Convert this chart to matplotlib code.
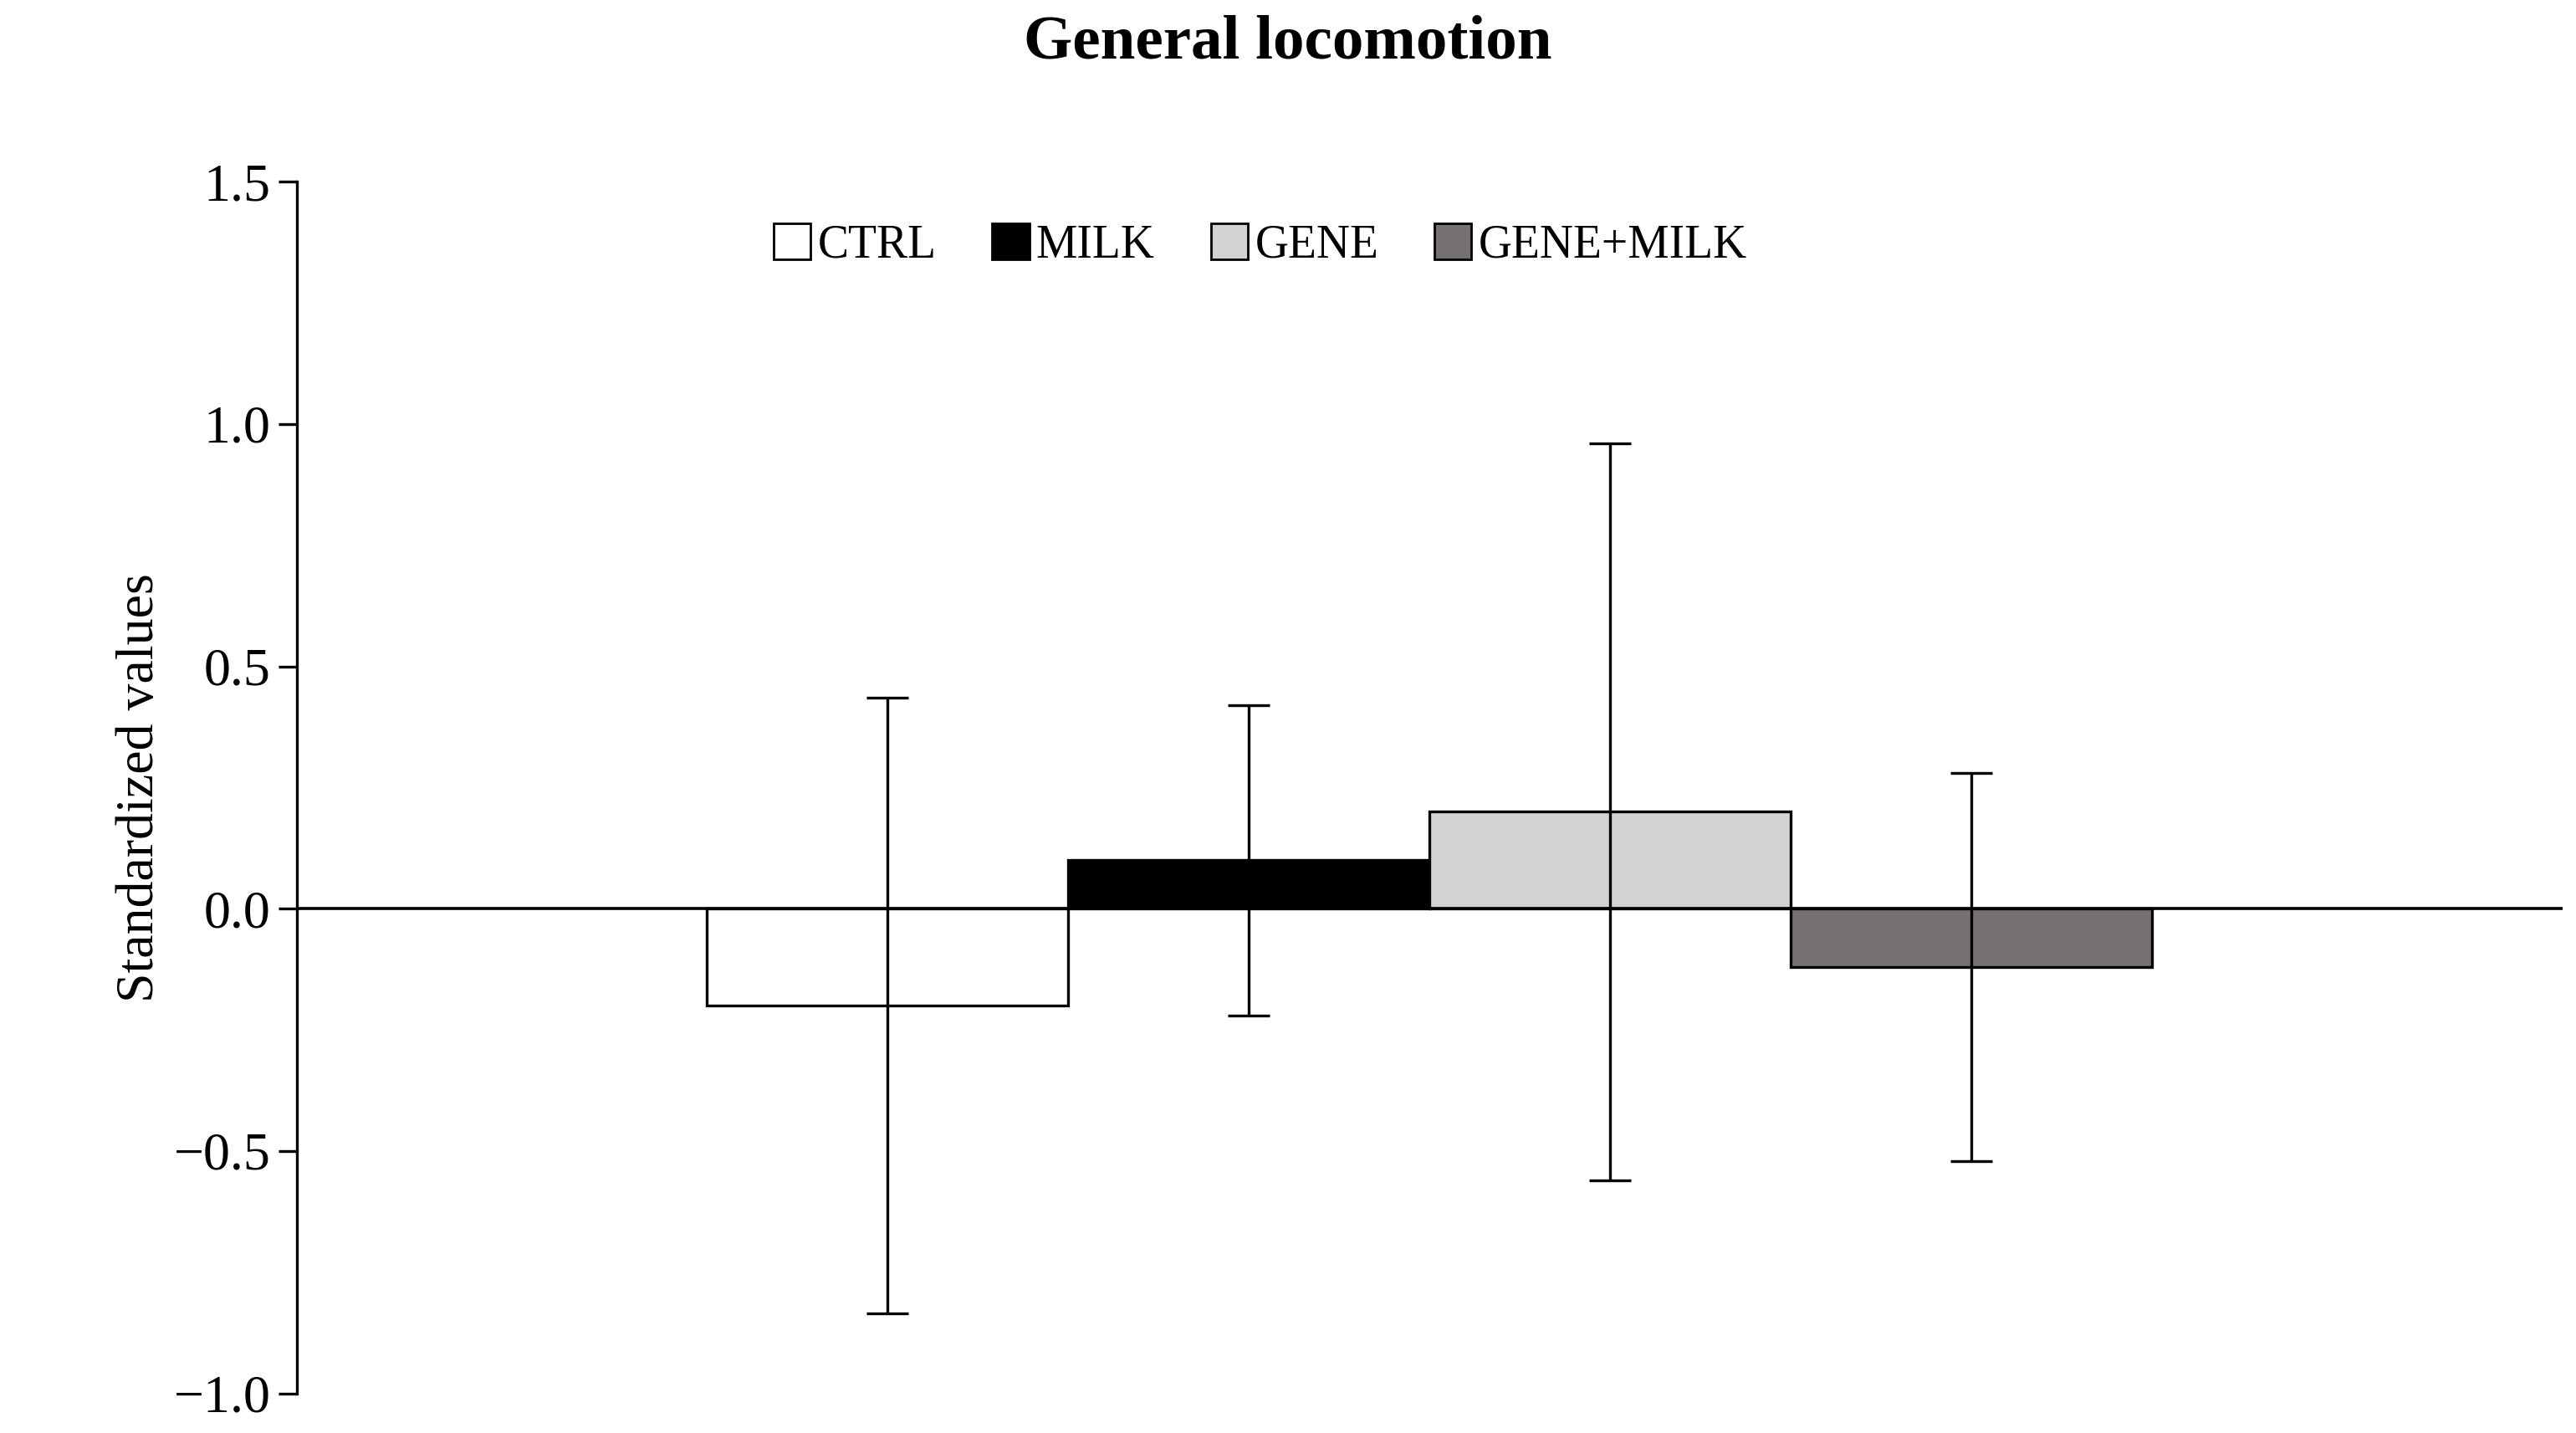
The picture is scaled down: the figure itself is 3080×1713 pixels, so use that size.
import matplotlib
matplotlib.use("Agg")
import matplotlib.pyplot as plt
from matplotlib.patches import Patch

groups = ["CTRL", "MILK", "GENE", "GENE+MILK"]
values = [-0.20, 0.10, 0.20, -0.12]
errors = [0.635, 0.32, 0.76, 0.40]
colors = ["white", "black", "#d3d3d3", "#767171"]
yticks = [-1.0, -0.5, 0.0, 0.5, 1.0, 1.5]

plt.rcParams['font.family'] = ['Liberation Serif', 'DejaVu Serif']
fig = plt.figure(figsize=(15.4, 8.565), dpi=200)
ax = fig.add_axes([0.1154, 0.0276, 0.8795, 0.8457])
x = list(range(len(groups)))
ax.bar(x, values, width=1.0, color=colors, edgecolor="black", linewidth=1.2, zorder=2)
ax.errorbar(x, values, yerr=errors, fmt="none", ecolor="black", elinewidth=1.2,
            capsize=9, capthick=1.2, zorder=3)
ax.axhline(0, color="black", linewidth=1.3, zorder=4)
ax.set_xlim(-1.634, 4.638)
ax.set_ylim(-1.0, 1.5)
ax.set_yticks(yticks)
ax.set_yticklabels([f"{v:.1f}".replace("-", "\u2212") for v in yticks], fontsize=23)
ax.tick_params(axis="y", direction="out", length=8, width=1.2)
ax.set_xticks([])
for s in ["top", "right", "bottom"]:
    ax.spines[s].set_visible(False)
ax.spines["left"].set_linewidth(1.2)
ax.set_ylabel("Standardized values", fontsize=23)
fig.suptitle("General locomotion", fontsize=27, fontweight="bold", y=0.99)
handles = [Patch(facecolor=c, edgecolor="black", linewidth=1.0) for c in colors]
ax.legend(handles, groups, loc="upper center", bbox_to_anchor=(0.425, 1.0), ncol=4,
          frameon=False, fontsize=20, handlelength=0.8, handleheight=0.8,
          handletextpad=0.15, columnspacing=1.2)
fig.savefig("out.png")
